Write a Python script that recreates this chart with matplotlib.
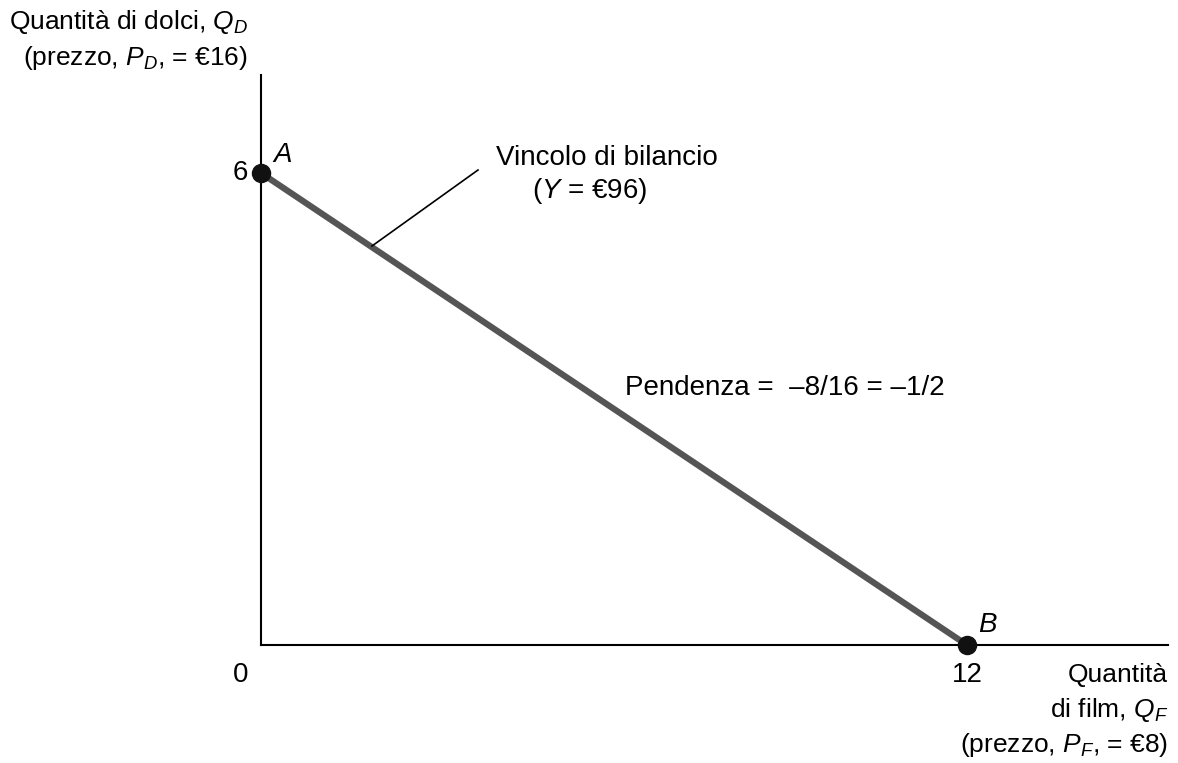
import matplotlib.pyplot as plt
from matplotlib import font_manager

# budget constraint data
budget = 96
price_films = 8
price_sweets = 16
films = [0, budget / price_films]     # 0 .. 12
sweets = [budget / price_sweets, 0]   # 6 .. 0
point_names = ['A', 'B']

names = {f.name for f in font_manager.fontManager.ttflist}
fam = 'Liberation Sans Narrow' if 'Liberation Sans Narrow' in names else 'Liberation Sans'
plt.rcParams['font.family'] = [fam, 'DejaVu Sans']
plt.rcParams['mathtext.fontset'] = 'custom'
plt.rcParams['mathtext.rm'] = fam
plt.rcParams['mathtext.it'] = fam + ':italic'

W, H = 1178, 763
fig = plt.figure(figsize=(W / 100, H / 100), dpi=100)
# axes box: origin at px (261, 645), top right at (1168, 75)
ax = fig.add_axes([261 / W, 1 - 645 / H, 907 / W, 570 / H])
ax.set_xlim(0, 907 / ((967 - 261) / 12))
ax.set_ylim(0, 570 / ((645 - 173) / 6))
for s in ['top', 'right']:
    ax.spines[s].set_visible(False)
for s in ['left', 'bottom']:
    ax.spines[s].set_linewidth(1.5)
ax.set_xticks([])
ax.set_yticks([])

ax.plot(films, sweets, color='#555555', lw=4.5, solid_capstyle='butt', zorder=2)
ax.plot(films, sweets, 'o', color='#111111', ms=13, zorder=3, clip_on=False)

fs = 20
fs_t = 19  # axis titles, a bit smaller so the top-left one fits


def px(x, y):
    return x / W, 1 - y / H


# point labels
fig.text(*px(273, 155), point_names[0], fontsize=fs, style='italic', va='center', ha='left')
fig.text(*px(978, 625), point_names[1], fontsize=fs, style='italic', va='center', ha='left')

# tick-like labels
fig.text(*px(248, 173), '%d' % sweets[0], fontsize=fs, va='center', ha='right')
fig.text(*px(248, 675), '0', fontsize=fs, va='center', ha='right')
fig.text(*px(967, 675), '%d' % films[1], fontsize=fs, va='center', ha='center')

# axis titles
fig.text(*px(248, 22), r'Quantità di dolci, $Q_D$', fontsize=fs_t, va='center', ha='right')
fig.text(*px(248, 58), r'(prezzo, $P_D$, = €%d)' % price_sweets, fontsize=fs_t, va='center', ha='right')
fig.text(*px(1168, 675), 'Quantità', fontsize=fs_t, va='center', ha='right')
fig.text(*px(1168, 710), r'di film, $Q_F$', fontsize=fs_t, va='center', ha='right')
fig.text(*px(1168, 745), r'(prezzo, $P_F$, = €%d)' % price_films, fontsize=fs_t, va='center', ha='right')

# annotations
fig.text(*px(607, 158), 'Vincolo di bilancio', fontsize=fs, va='center', ha='center')
fig.text(*px(590, 191), r'($Y$ = €%d)' % budget, fontsize=fs, va='center', ha='center')
fig.add_artist(plt.Line2D([372 / W, 478 / W], [1 - 246 / H, 1 - 170 / H], color='black', lw=1.2))
fig.text(*px(625, 388), 'Pendenza =  –%d/%d = –1/2' % (price_films, price_sweets),
         fontsize=fs, va='center', ha='left')

fig.savefig('out.png', dpi=100)
